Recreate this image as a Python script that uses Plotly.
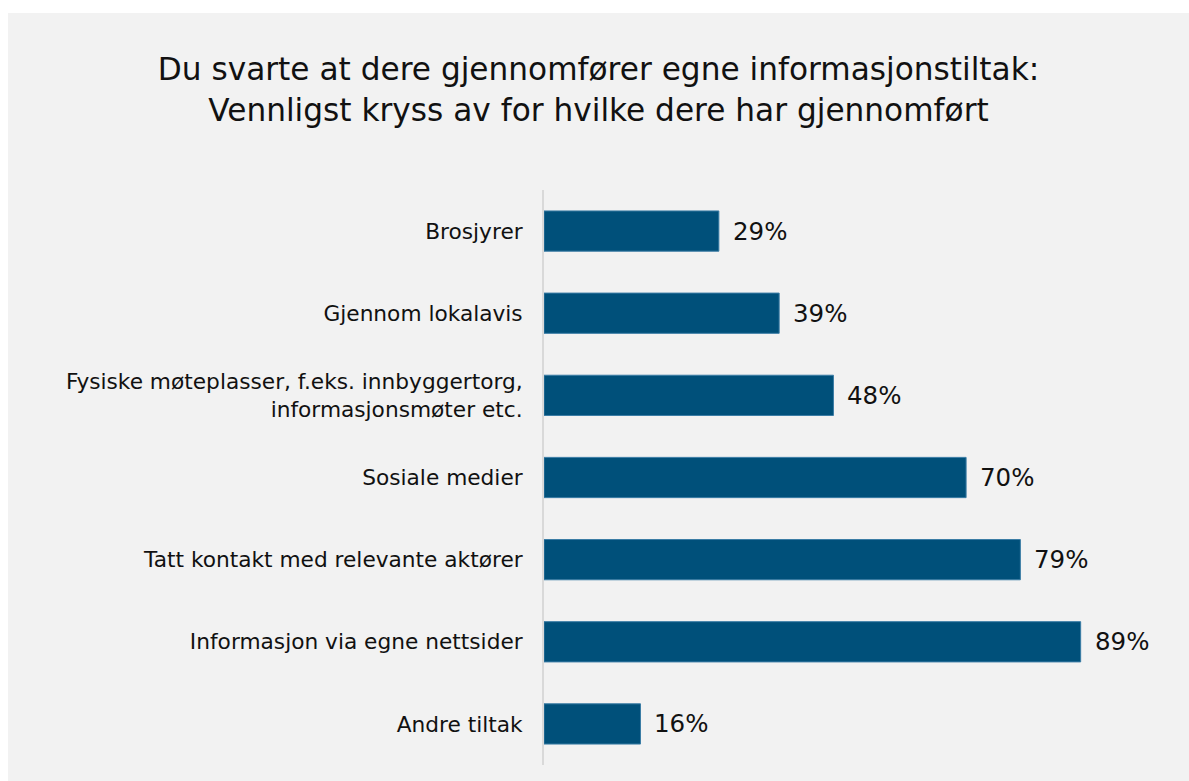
import plotly.graph_objects as go

categories = [
    "Brosjyrer",
    "Gjennom lokalavis",
    "Fysiske møteplasser, f.eks. innbyggertorg,<br>informasjonsmøter etc.",
    "Sosiale medier",
    "Tatt kontakt med relevante aktører",
    "Informasjon via egne nettsider",
    "Andre tiltak",
]
values = [29, 39, 48, 70, 79, 89, 16]
value_labels = [f"{v}%" for v in values]

W, H = 1189, 781
L, R, T, B = 544, 42, 190, 16
pw, ph = W - L - R, H - T - B

fig = go.Figure(
    go.Bar(
        x=values,
        y=categories,
        orientation="h",
        marker=dict(color="#00507a", line=dict(color="#3a7ca5", width=1)),
        width=0.49,
    )
)

for cat, v, lab in zip(categories, values, value_labels):
    fig.add_annotation(
        x=v, y=cat, text=lab, showarrow=False,
        xanchor="left", yanchor="middle", xshift=12,
        font=dict(family="DejaVu Sans", size=24.5, color="#111111"),
    )

# grey panel (white strip on top/left)
fig.add_shape(
    type="rect", xref="paper", yref="paper", layer="below",
    x0=(8 - L) / pw, x1=(W - L) / pw,
    y0=(T + ph - H) / ph, y1=(T + ph - 13) / ph,
    fillcolor="#f2f2f2", line=dict(width=0),
)

fig.update_layout(
    width=W, height=H,
    margin=dict(l=L, r=R, t=T, b=B, pad=0),
    paper_bgcolor="white",
    plot_bgcolor="rgba(0,0,0,0)",
    showlegend=False,
    title=dict(
        text="Du svarte at dere gjennomfører egne informasjonstiltak:<br>Vennligst kryss av for hvilke dere har gjennomført",
        x=598.5 / W, xanchor="center",
        y=1 - 80 / H, yanchor="middle",
        font=dict(family="DejaVu Sans", size=31.2, color="#111111"),
    ),
    font=dict(family="DejaVu Sans", color="#111111"),
)
fig.update_xaxes(range=[0, 100], visible=False, showgrid=False)
fig.update_yaxes(
    autorange="reversed",
    showgrid=False,
    showline=True, linecolor="#d9d9d9", linewidth=2,
    ticks="", ticklabelstandoff=15,
    tickfont=dict(family="DejaVu Sans", size=21.7, color="#111111"),
)

fig.write_html("out.html")
